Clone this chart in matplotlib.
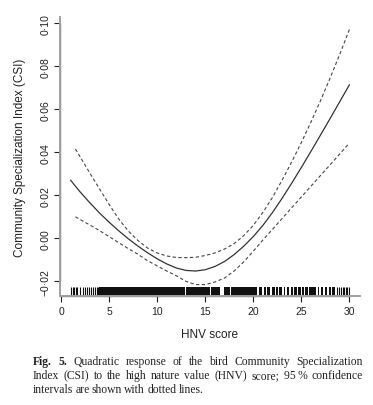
import numpy as np
import matplotlib
matplotlib.use("Agg")
import matplotlib.pyplot as plt

# fitted curve and 95% confidence band
hnv_fit = [1.0, 2, 3, 4, 5, 6, 7, 8, 9, 10, 11, 12, 13, 14, 15, 16, 17, 18, 19, 20,
           21, 22, 23, 24, 25, 26, 27, 28, 29, 30]
csi_fit = [0.0270, 0.0215, 0.0165, 0.0118, 0.0075, 0.0035, -0.0002, -0.0036, -0.0067,
           -0.0095, -0.0119, -0.0138, -0.0149, -0.0152, -0.0146, -0.0131, -0.0108,
           -0.0076, -0.0037, 0.0008, 0.0060, 0.0120, 0.0186, 0.0256, 0.0329, 0.0404,
           0.0480, 0.0557, 0.0635, 0.0713]

hnv_ci = [1.5, 2, 3, 4, 5, 6, 7, 8, 9, 10, 11, 12, 13, 14, 15, 16, 17, 18, 19, 20,
          21, 22, 23, 24, 25, 26, 27, 28, 29, 30]
csi_upper = [0.0415, 0.0378, 0.0303, 0.0230, 0.0158, 0.0090, 0.0034, -0.0010, -0.0045,
             -0.0068, -0.0082, -0.0089, -0.0090, -0.0088, -0.0080, -0.0068, -0.0050,
             -0.0025, 0.0012, 0.0060, 0.0120, 0.0190, 0.0270, 0.0355, 0.0445, 0.0540,
             0.0640, 0.0745, 0.0855, 0.0970]
csi_lower = [0.0100, 0.0087, 0.0062, 0.0036, 0.0008, -0.0020, -0.0048, -0.0074, -0.0104,
             -0.0128, -0.0152, -0.0174, -0.0200, -0.0215, -0.0215, -0.0203, -0.0185,
             -0.0152, -0.0110, -0.0060, -0.0008, 0.0042, 0.0092, 0.0142, 0.0192, 0.0242,
             0.0292, 0.0342, 0.0392, 0.0443]

# observed HNV scores (rug): isolated sites and densely sampled ranges
rug_sites = [1.04, 1.21, 1.35, 1.56, 1.70, 1.98, 2.32, 2.46, 2.74, 2.91, 3.12, 3.33,
             3.54, 3.71, 3.88, 28.75, 28.95, 29.15, 29.3, 29.45, 29.6, 29.75, 29.97]
rug_ranges = [(4.0, 12.9), (13.05, 15.45), (15.6, 16.55), (16.7, 16.8), (16.95, 17.55),
              (17.7, 20.35), (20.55, 20.95), (21.1, 21.3), (21.45, 21.75), (21.9, 22.25),
              (22.4, 22.55), (22.7, 23.0), (23.15, 23.35), (23.5, 23.75), (23.9, 24.1),
              (24.25, 24.5), (24.7, 24.95), (25.1, 25.25), (25.4, 25.65), (25.8, 26.5),
              (26.7, 26.85), (27.0, 27.3), (27.45, 27.7), (27.85, 28.05), (28.2, 28.55)]

x_ticks = [0, 5, 10, 15, 20, 25, 30]
y_ticks = [-0.02, 0.00, 0.02, 0.04, 0.06, 0.08, 0.10]
y_labels = ["\u22120\u00b702", "0\u00b700", "0\u00b702", "0\u00b704", "0\u00b706",
            "0\u00b708", "0\u00b710"]

plt.rcParams["font.family"] = ["Liberation Sans", "DejaVu Sans"]

fig = plt.figure(figsize=(3.73, 4.06), dpi=100)
ax = fig.add_axes([0.161, 0.269, 0.804, 0.687])

ax.plot(hnv_fit, csi_fit, color="#333333", lw=0.9)
ax.plot(hnv_ci, csi_upper, color="#444444", lw=0.8, dashes=(3, 2.2))
ax.plot(hnv_ci, csi_lower, color="#444444", lw=0.8, dashes=(3, 2.2))

# rug along the bottom
tr = ax.get_xaxis_transform()
ax.vlines(rug_sites, 0, 0.032, transform=tr, color="#111111", lw=0.8)
for a, b in rug_ranges:
    ax.axvspan(a, b, ymin=0, ymax=0.032, color="#111111", lw=0)

ax.set_xlim(-0.1, 31.1)
ax.set_ylim(-0.0267, 0.1029)

for s in ["top", "right"]:
    ax.spines[s].set_visible(False)
for s in ["left", "bottom"]:
    ax.spines[s].set_color("#a0a0a0")
    ax.spines[s].set_linewidth(1.4)

# R-style axis lines running from first to last tick
ax.plot([x_ticks[0], x_ticks[-1]], [0, 0], transform=tr, color="#222222", lw=0.9,
        clip_on=False, solid_capstyle="butt")
ax.plot([0, 0], [y_ticks[0], y_ticks[-1]], transform=ax.get_yaxis_transform(),
        color="#222222", lw=0.9, clip_on=False, solid_capstyle="butt")

ax.set_xticks(x_ticks)
ax.set_yticks(y_ticks)
ax.set_yticklabels(y_labels, rotation=90, va="center")
ax.tick_params(axis="both", direction="out", length=4, width=0.8, color="#222222",
               labelsize=7.5, labelcolor="#222222")
ax.tick_params(axis="y", pad=3)
ax.tick_params(axis="x", pad=3)

ax.set_xlabel("HNV score", fontsize=8.5, color="#222222", labelpad=9)
ax.set_ylabel("Community Specialization Index (CSI)", fontsize=8.5, color="#222222",
              labelpad=10)

# caption, justified like the printed figure legend
cap_lines = [
    [("Fig.", "bold"), ("5.", "bold"), ("Quadratic", "normal"), ("response", "normal"),
     ("of", "normal"), ("the", "normal"), ("bird", "normal"), ("Community", "normal"),
     ("Specialization", "normal")],
    [(w, "normal") for w in "Index (CSI) to the high nature value (HNV) score; 95\u2009% confidence".split(" ")],
    [(w, "normal") for w in "intervals are shown with dotted lines.".split(" ")],
]
cap_y = [0.101, 0.0665, 0.033]
x0, x1 = 33 / 373, 363 / 373

fig.canvas.draw()
renderer = fig.canvas.get_renderer()
W = fig.bbox.width
for i, (words, y) in enumerate(zip(cap_lines, cap_y)):
    texts = [fig.text(0, y, w, fontsize=8.4, weight=wt,
                      family=["Liberation Serif", "DejaVu Serif"], color="#222222")
             for w, wt in words]
    widths = [t.get_window_extent(renderer).width / W for t in texts]
    if i < len(cap_lines) - 1:
        gap = (x1 - x0 - sum(widths)) / (len(texts) - 1)
    else:
        gap = 2.2 / W
    x = x0
    for t, w in zip(texts, widths):
        t.set_x(x)
        x += w + gap

fig.savefig("out.png", dpi=100)
